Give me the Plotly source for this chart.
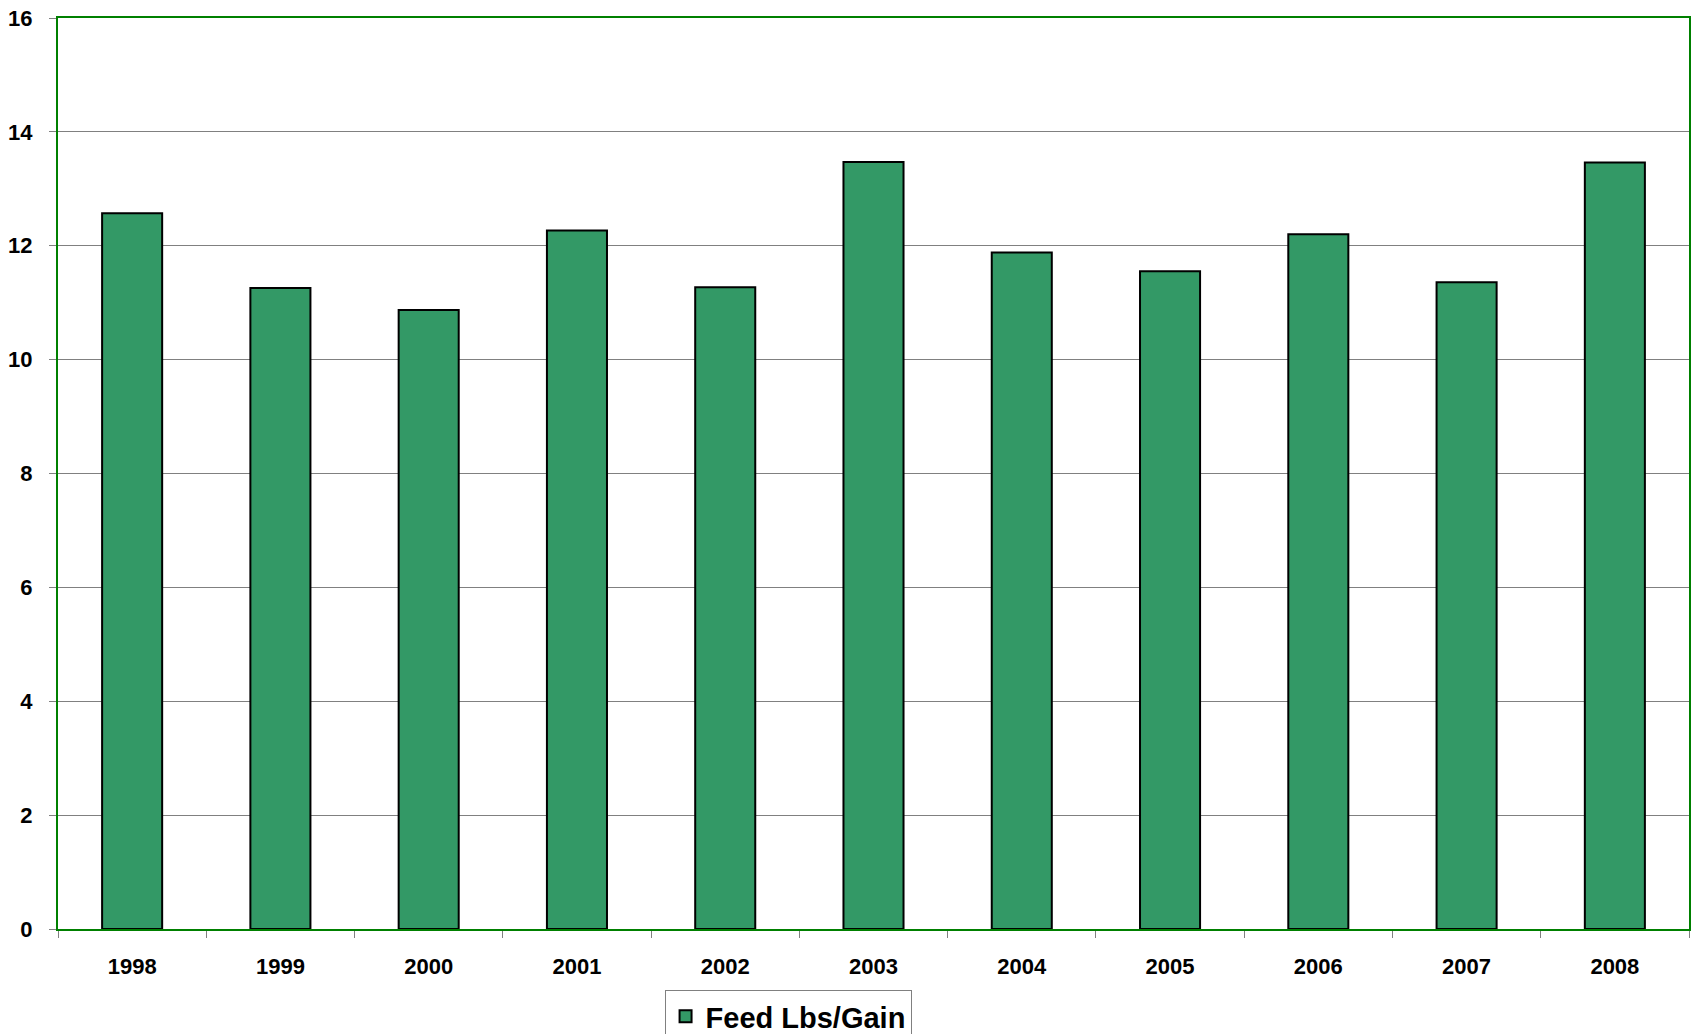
import plotly.graph_objects as go

YEARS = ["1998", "1999", "2000", "2001", "2002", "2003", "2004", "2005", "2006", "2007", "2008"]
FEED_LBS_GAIN = [12.57, 11.26, 10.87, 12.27, 11.27, 13.47, 11.88, 11.55, 12.20, 11.36, 13.46]
SERIES_NAME = "Feed Lbs/Gain"

FONT = "Liberation Sans, Arial, sans-serif"
GREEN = "#008000"

fig = go.Figure(
    data=[
        go.Bar(
            x=YEARS,
            y=FEED_LBS_GAIN,
            name=SERIES_NAME,
            marker=dict(color="#339966", line=dict(color="black", width=2)),
            showlegend=True,
        )
    ]
)

fig.update_layout(
    width=1691,
    height=1034,
    margin=dict(l=58, r=2, t=18, b=105),
    paper_bgcolor="white",
    plot_bgcolor="white",
    bargap=0.595,
    font=dict(family=FONT, color="black"),
    showlegend=True,
    legend=dict(
        xref="container",
        yref="container",
        x=0.393,
        y=0.0426,
        xanchor="left",
        yanchor="top",
        orientation="h",
        bordercolor="#808080",
        borderwidth=1,
        font=dict(family=FONT, size=29, weight="bold"),
        itemsizing="constant",
        itemwidth=30,
    ),
    xaxis=dict(
        type="category",
        automargin=False,
        showline=True,
        linecolor=GREEN,
        linewidth=2,
        mirror=True,
        ticks="outside",
        tickson="boundaries",
        ticklen=7,
        tickcolor="#808080",
        tickfont=dict(family=FONT, size=22, weight="bold"),
        ticklabelstandoff=17,
        showgrid=False,
    ),
    yaxis=dict(
        range=[0, 16],
        dtick=2,
        automargin=False,
        showline=True,
        linecolor=GREEN,
        linewidth=2,
        mirror=True,
        ticks="outside",
        ticklen=7,
        tickcolor="#808080",
        tickfont=dict(family=FONT, size=22, weight="bold"),
        ticklabelstandoff=12,
        showgrid=True,
        gridcolor="#808080",
        gridwidth=1,
        zeroline=False,
    ),
)

fig.write_html("out.html", config={"displayModeBar": False})

# drop the default 8px body margin so the figure sits flush with the window
with open("out.html", encoding="utf-8") as f:
    html = f.read()
html = html.replace("<head>", "<head><style>body{margin:0;overflow:hidden;}</style>", 1)
with open("out.html", "w", encoding="utf-8") as f:
    f.write(html)
